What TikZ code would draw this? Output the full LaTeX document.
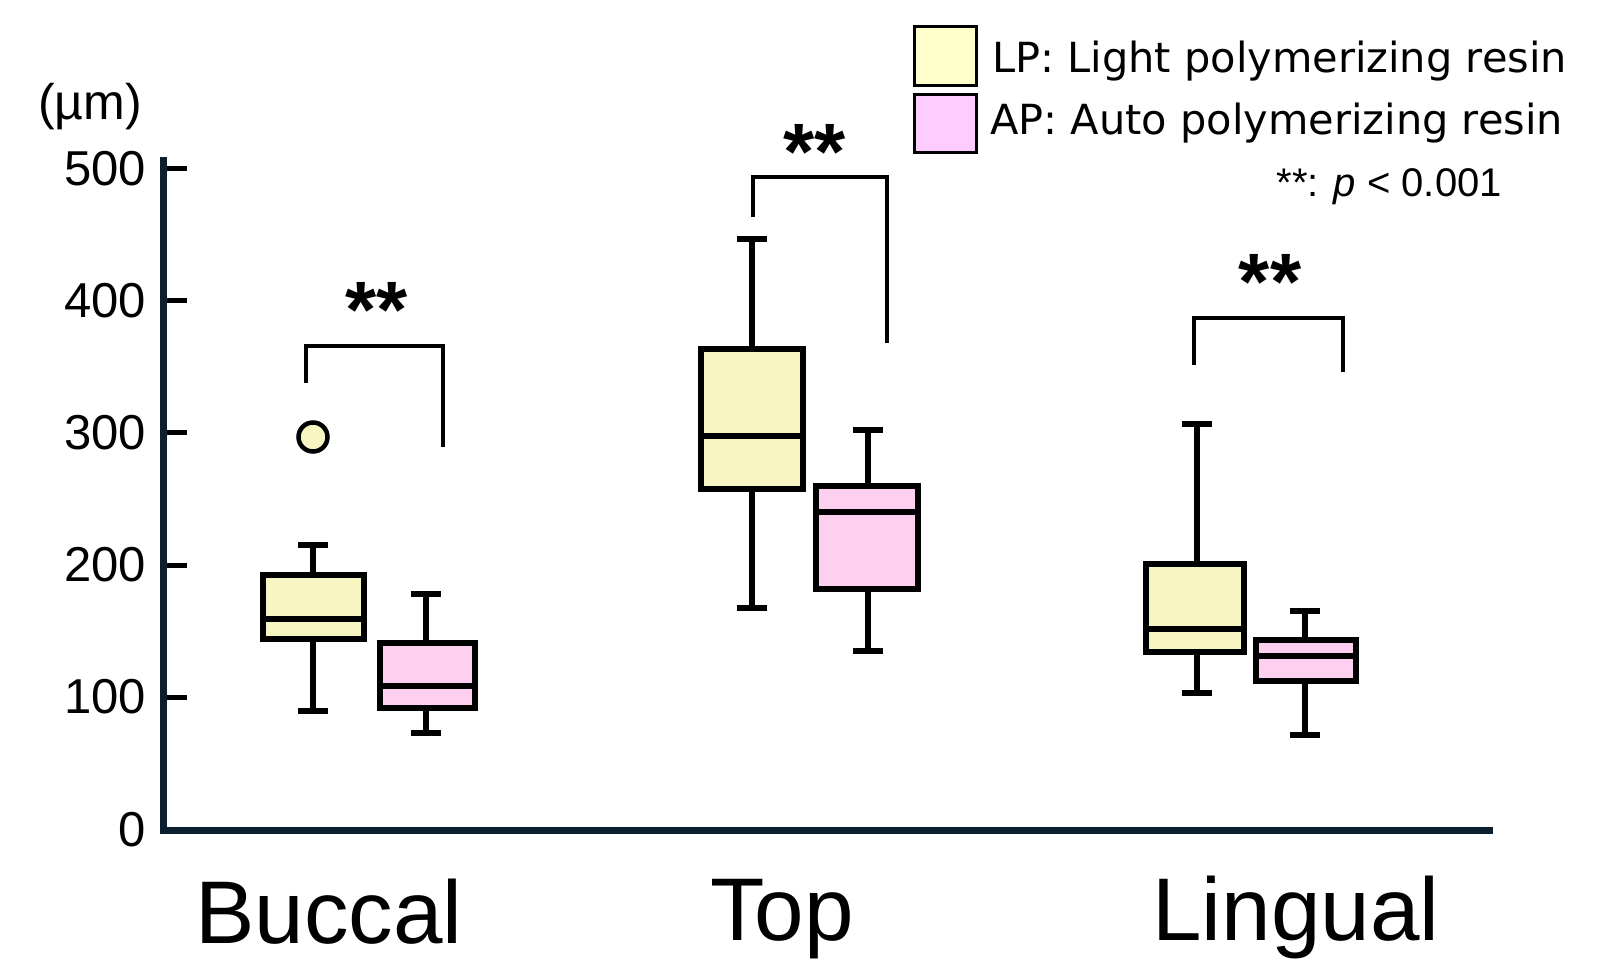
\documentclass[tikz,border=0pt]{standalone}
\usepackage{fontspec}
\setmainfont{Liberation Sans}
\newfontfamily\dvs{DejaVu Sans}
\definecolor{lpfill}{HTML}{F7F6C3}
\definecolor{apfill}{HTML}{FCD0EE}
\definecolor{lpleg}{HTML}{FFFFCC}
\definecolor{apleg}{HTML}{FFCCFF}
\definecolor{axiscol}{HTML}{0B1F2E}
\newcommand\bxp[9]{%
  \draw[whisk] (#7,#8) -- (#7,#4);
  \draw[whisk] (#7,#5) -- (#7,#9);
  \draw[capline] (#7-15,#8) -- (#7+15,#8);
  \draw[capline] (#7-15,#9) -- (#7+15,#9);
  \draw[boxline, fill=#1] (#2,#4) rectangle (#3,#5);
  \draw[boxline] (#2,#6) -- (#3,#6);
}
\begin{document}
\begin{tikzpicture}[x=1pt,y=-1pt,
  boxline/.style={line width=6pt, draw=black},
  whisk/.style={line width=6pt, draw=black},
  capline/.style={line width=6pt, draw=black},
  brk/.style={line width=3.5pt, draw=black},
  axisline/.style={line width=7pt, draw=axiscol},
  tickline/.style={line width=5pt, draw=black},
  ticklab/.style={anchor=east, inner sep=0pt, font=\fontsize{49}{52}\selectfont},
  catlab/.style={anchor=base, inner sep=0pt, font=\fontsize{89}{90}\selectfont},
  stars/.style={anchor=base, inner sep=0pt, font=\fontsize{80}{84}\selectfont\bfseries},
  legtext/.style={anchor=base west, inner sep=0pt, font=\fontsize{41.5}{44}\dvs},
  legbox/.style={line width=3pt, draw=black}
]
\useasboundingbox (0,0) rectangle (1599,973);

% axes
\coordinate (ytop) at (163.5,157);
\coordinate (orig) at (163.5,830);
\coordinate (xend) at (1493,830);
\draw[axisline] (ytop) -- (orig) -- (xend);

% ticks and labels
\foreach \v/\y in {500/169,400/301,300/433,200/565,100/697}{
  \coordinate (t\v a) at (167,\y);
  \coordinate (t\v b) at (187,\y);
  \draw[tickline] (t\v a) -- (t\v b);
  \node[ticklab] (l\v) at (146,\y) {\v};
}
\node[ticklab] (l0) at (146,830) {0};
\node[anchor=base east, inner sep=0pt, font=\fontsize{50}{52}\selectfont] (unit) at (142,120) {(µm)};

% Buccal
\bxp{lpfill}{263}{364}{575}{639}{619}{313}{545}{711}
\bxp{apfill}{380}{475}{643}{708}{686}{426}{594}{733}
\node[circle, draw=black, line width=4.5pt, fill=lpfill, minimum size=29pt, inner sep=0pt] (outl) at (313,437) {};
% Top
\bxp{lpfill}{701}{803}{349}{489}{436}{752}{239}{608}
\bxp{apfill}{816}{918}{486}{589}{512}{868}{430}{651}
% Lingual
\bxp{lpfill}{1146}{1244}{564}{652}{629}{1197}{424}{693}
\bxp{apfill}{1256}{1356}{640}{681}{656}{1305}{611}{735}

% brackets
\coordinate (b1a) at (306,383); \coordinate (b1b) at (306,346);
\coordinate (b1c) at (443,346); \coordinate (b1d) at (443,447);
\draw[brk] (b1a) -- (b1b) -- (b1c) -- (b1d);
\coordinate (b2a) at (753,217); \coordinate (b2b) at (753,177);
\coordinate (b2c) at (887,177); \coordinate (b2d) at (887,343);
\draw[brk] (b2a) -- (b2b) -- (b2c) -- (b2d);
\coordinate (b3a) at (1194,365); \coordinate (b3b) at (1194,318);
\coordinate (b3c) at (1343,318); \coordinate (b3d) at (1343,372);
\draw[brk] (b3a) -- (b3b) -- (b3c) -- (b3d);

\node[stars] (s1) at (377,338) {**};
\node[stars] (s2) at (815,180) {**};
\node[stars] (s3) at (1270,310) {**};

% category labels
\node[catlab] (cb) at (329,943) {Buccal};
\node[catlab] (ct) at (782,940) {Top};
\node[catlab] (cl) at (1296,940) {Lingual};

% legend
\draw[legbox, fill=lpleg] (914.5,26.5) rectangle (976.5,85.5);
\draw[legbox, fill=apleg] (914.5,94.5) rectangle (976.5,152.5);
\node[legtext] (lg1) at (992,73) {LP: Light polymerizing resin};
\node[legtext] (lg2) at (990,135) {AP: Auto polymerizing resin};
\node[anchor=base east, inner sep=0pt, font=\fontsize{40}{42}\selectfont] (pv) at (1502,197) {**: \textit{p} < 0.001};
\end{tikzpicture}
\end{document}
